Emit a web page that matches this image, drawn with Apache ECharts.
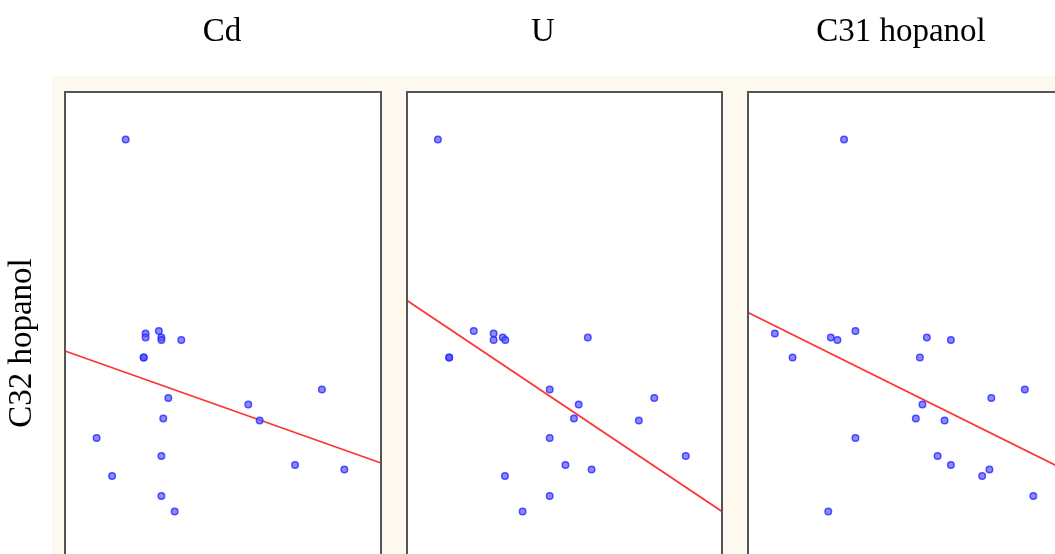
<!DOCTYPE html>
<html>
<head>
<meta charset="utf-8">
<script src="https://cdn.jsdelivr.net/npm/echarts@6/dist/echarts.min.js"></script>
<style>
html,body{margin:0;padding:0;background:#fff;}
#chart{width:1055px;height:554px;}
</style>
</head>
<body>
<div id="chart"></div>
<script>
// Panel titles and axis label
var panelTitles = ['Cd', 'U', 'C31 hopanol'];
var yLabel = 'C32 hopanol';

// Shared response: C32 hopanol (arbitrary units, 0-100)
var c32 = [90.5, 52.2, 51.7, 50.9, 50.9, 50.4, 50.4, 46.9, 46.9, 40.5, 38.8,
           37.5, 34.7, 34.3, 30.8, 27.2, 25.4, 24.5, 23.2, 19.2, 16.1];

// Predictors (arbitrary units 0-100)
var cd = [19.2, 29.7, 25.5, 25.5, 30.5, 30.5, 36.8, 24.9, 24.9, 81.3, 32.7,
          58.0, 31.1, 61.6, 10.0, 30.5, 72.8, 88.4, 14.9, 30.5, 34.7];
var u = [9.8, 21.2, 27.5, 30.4, 57.4, 27.5, 31.2, 13.4, 13.4, 45.3, 78.5,
         54.5, 53.0, 73.6, 45.3, 88.5, 50.3, 58.6, 31.1, 45.3, 36.7];
var c31 = [30.4, 34.0, 8.5, 26.2, 56.6, 28.3, 64.2, 14.1, 54.4, 87.6, 77.0,
           55.2, 53.1, 62.2, 34.0, 60.0, 64.2, 76.4, 74.1, 90.3, 25.4];

// Fitted regression lines (endpoints): [x0, y0, x1, y1]
var fitCd = [0, 48.2, 100, 25.8];
var fitU = [0, 58.3, 100, 16.1];
var fitC31 = [0, 55.9, 100, 24.5];

// Visible ranges (the panels are cut off at the bottom, the third one also at the right)
var yMin = 7.6, yMax = 100;
var xMaxVisible = [100, 100, 97.15];

var xs = [cd, u, c31];
var fits = [fitCd, fitU, fitC31];
var gridLefts = [65, 407, 748];
var gridWidths = [316, 315, 307];
var frameWidths = [316, 315, 316];
var titleCenters = [222, 543, 901];

var grids = [], xAxes = [], yAxes = [], series = [], graphics = [];

graphics.push({
  type: 'rect', z: -10, silent: true,
  shape: {x: 52, y: 76, width: 1010, height: 490},
  style: {fill: '#fef9ee'}
});

for (var i = 0; i < 3; i++) {
  grids.push({
    left: gridLefts[i], top: 92, width: gridWidths[i], height: 462,
    show: true, backgroundColor: '#ffffff', borderWidth: 0
  });
  graphics.push({
    type: 'rect', z: 20, silent: true,
    shape: {x: gridLefts[i], y: 92, width: frameWidths[i], height: 520},
    style: {fill: 'none', stroke: '#555555', lineWidth: 2}
  });
  xAxes.push({
    type: 'value', gridIndex: i, min: 0, max: xMaxVisible[i],
    axisLine: {show: false}, axisTick: {show: false},
    axisLabel: {show: false}, splitLine: {show: false}
  });
  yAxes.push({
    type: 'value', gridIndex: i, min: yMin, max: yMax,
    axisLine: {show: false}, axisTick: {show: false},
    axisLabel: {show: false}, splitLine: {show: false}
  });
  var pts = [];
  for (var k = 0; k < c32.length; k++) pts.push([xs[i][k], c32[k]]);
  series.push({
    type: 'line', xAxisIndex: i, yAxisIndex: i,
    data: [[fits[i][0], fits[i][1]], [fits[i][2], fits[i][3]]],
    symbol: 'none', lineStyle: {color: '#ff3333', width: 1.8}, z: 2,
    clip: true, animation: false
  });
  series.push({
    type: 'scatter', xAxisIndex: i, yAxisIndex: i, data: pts,
    symbol: 'circle', symbolSize: 6.5,
    itemStyle: {color: 'rgba(85,85,255,0.85)', borderColor: '#2a2aff', borderWidth: 1.5},
    z: 3, animation: false
  });
  graphics.push({
    type: 'text', z: 10,
    style: {
      text: panelTitles[i], x: titleCenters[i], y: 32,
      textAlign: 'center', textVerticalAlign: 'middle',
      font: '33px "Liberation Serif", "Times New Roman", serif', fill: '#000'
    }
  });
}

graphics.push({
  type: 'text', z: 10, x: 22, y: 343, rotation: Math.PI / 2,
  style: {
    text: yLabel, x: 0, y: 0,
    textAlign: 'center', textVerticalAlign: 'middle',
    font: '33px "Liberation Serif", "Times New Roman", serif', fill: '#000'
  }
});

var chart = echarts.init(document.getElementById('chart'), null, {renderer: 'canvas'});
chart.setOption({
  animation: false,
  backgroundColor: '#ffffff',
  grid: grids, xAxis: xAxes, yAxis: yAxes, series: series,
  graphic: graphics
});
</script>
</body>
</html>
